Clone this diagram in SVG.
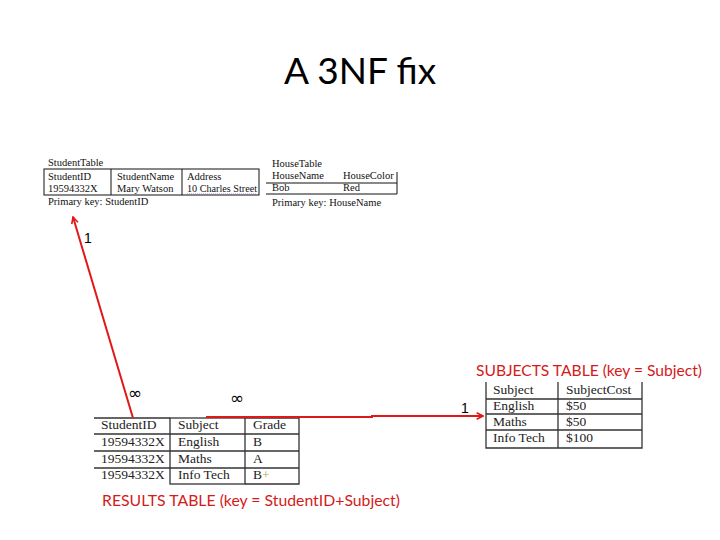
<svg xmlns="http://www.w3.org/2000/svg" width="720" height="540" viewBox="0 0 720 540">
<defs>
<style>
.title{font-family:Lato,"Liberation Sans",sans-serif;font-size:37px;fill:#000}
.s{font-family:"Liberation Serif",serif;font-size:10.5px;fill:#111}
.m{font-family:"Liberation Serif",serif;font-size:13.5px;fill:#222}
.lbl{font-family:Lato,"Liberation Sans",sans-serif;font-size:15.5px;fill:#d41a1a}
.num{font-family:"Liberation Sans",sans-serif;font-size:14px;fill:#000}
.inf{font-family:"DejaVu Sans",sans-serif;font-size:17px;fill:#000}
.bl{stroke:#111;stroke-width:1;fill:none}
.gl{stroke:#333;stroke-width:1.3;fill:none}
.rl{stroke:#e01818;stroke-width:2;fill:none}
</style>
<marker id="ah" viewBox="0 0 10 10" refX="9" refY="5" markerWidth="4" markerHeight="4" orient="auto" markerUnits="strokeWidth">
<path d="M1,1 L9,5 L1,9" fill="none" stroke="#e01818" stroke-width="2"/>
</marker>
</defs>
<rect width="720" height="540" fill="#fff"/>
<text class="title" x="360" y="84" text-anchor="middle">A 3NF fix</text>

<g id="student-table">
<text class="s" x="48" y="166">StudentTable</text>
<rect class="bl" x="44" y="169" width="215" height="26"/>
<line class="bl" x1="111" y1="169" x2="111" y2="195"/>
<line class="bl" x1="182" y1="169" x2="182" y2="195"/>
<text class="s" x="48" y="180">StudentID</text>
<text class="s" x="117" y="180">StudentName</text>
<text class="s" x="187" y="180">Address</text>
<text class="s" x="48" y="192">19594332X</text>
<text class="s" x="117" y="192">Mary Watson</text>
<text class="s" x="187" y="192" textLength="70" lengthAdjust="spacingAndGlyphs">10 Charles Street</text>
<line x1="187" y1="194" x2="257" y2="194" stroke="#8a5fb0" stroke-width="0.8" stroke-dasharray="1,1"/>
<text class="s" x="48" y="205">Primary key: StudentID</text>
</g>

<g id="house-table">
<text class="s" x="272" y="167">HouseTable</text>
<text class="s" x="272" y="179">HouseName</text>
<text class="s" x="343" y="179">HouseColor</text>
<polyline class="bl" points="266,183 397,183"/>
<polyline class="bl" points="397,172 397,194 266,194"/>
<text class="s" x="272" y="191">Bob</text>
<text class="s" x="343" y="191">Red</text>
<text class="s" x="272" y="206">Primary key: HouseName</text>
</g>

<g id="results-table">
<line class="gl" x1="94" y1="418" x2="170" y2="418"/>
<rect class="gl" x="170" y="418" width="75" height="66"/>
<polyline class="gl" points="245,418 299,418 299,484 245,484"/>
<line class="gl" x1="94" y1="434" x2="299" y2="434"/>
<line class="gl" x1="94" y1="451" x2="299" y2="451"/>
<line class="gl" x1="94" y1="468" x2="299" y2="468"/>
<text class="m" x="101" y="429">StudentID</text>
<text class="m" x="178" y="429">Subject</text>
<text class="m" x="253" y="429">Grade</text>
<text class="m" x="101" y="446">19594332X</text>
<text class="m" x="178" y="446">English</text>
<text class="m" x="253" y="446">B</text>
<text class="m" x="101" y="463">19594332X</text>
<text class="m" x="178" y="463">Maths</text>
<text class="m" x="253" y="463">A</text>
<text class="m" x="101" y="479">19594332X</text>
<text class="m" x="178" y="479">Info Tech</text>
<text class="m" x="253" y="479">B<tspan fill="#c8a040">+</tspan></text>
<text class="lbl" x="102" y="506" textLength="298" lengthAdjust="spacingAndGlyphs">RESULTS TABLE (key = StudentID+Subject)</text>
</g>

<g id="subjects-table">
<polyline class="gl" points="486,382 486,448 642,448 642,382"/>
<line class="gl" x1="558" y1="382" x2="558" y2="448"/>
<line class="gl" x1="486" y1="399" x2="642" y2="399"/>
<line class="gl" x1="486" y1="414" x2="642" y2="414"/>
<line class="gl" x1="486" y1="430" x2="642" y2="430"/>
<text class="m" x="493" y="394">Subject</text>
<text class="m" x="566" y="394">SubjectCost</text>
<text class="m" x="493" y="410">English</text>
<text class="m" x="566" y="410">$50</text>
<text class="m" x="493" y="426">Maths</text>
<text class="m" x="566" y="426">$50</text>
<text class="m" x="493" y="442">Info Tech</text>
<text class="m" x="566" y="442">$100</text>
<text class="lbl" x="476" y="376" textLength="226" lengthAdjust="spacingAndGlyphs">SUBJECTS TABLE (key = Subject)</text>
</g>

<g id="connectors">
<line class="rl" x1="133" y1="418" x2="73" y2="217" marker-end="url(#ah)"/>
<polyline class="rl" points="206,417 372,417 372,416 483,416" marker-end="url(#ah)"/>
<text class="num" x="84" y="243">1</text>
<text class="inf" x="128" y="399">∞</text>
<text class="inf" x="230" y="404">∞</text>
<text class="num" x="461" y="413">1</text>
</g>
</svg>
